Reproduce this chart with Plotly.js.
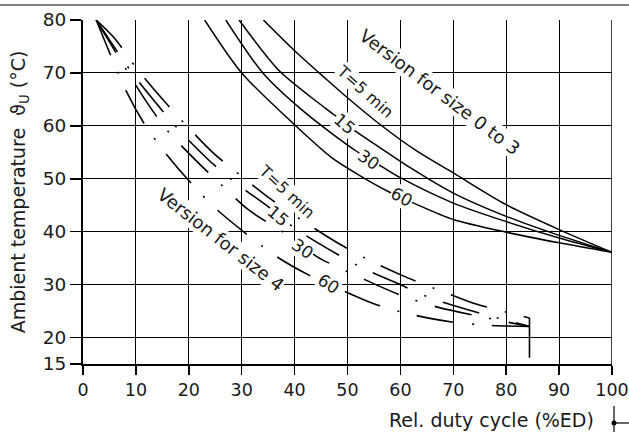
<!DOCTYPE html>
<html>
<head>
<meta charset="utf-8">
<script src="https://cdn.plot.ly/plotly-3.0.1.min.js"></script>
<style>html,body{margin:0;padding:0;background:#fff;}#chart{width:629px;height:432px;}</style>
</head>
<body>
<div id="chart"></div>
<script>
// Version for size 0 to 3 (solid curves), x = rel. duty cycle %ED, y = ambient temperature °C
const up5X  = [34.1, 40, 46, 50, 56.1, 63, 70, 80, 90, 100];
const up5Y  = [80, 74.2, 68.8, 65.3, 60.3, 55.3, 51.1, 45.1, 40.4, 36.1];
const up15X = [29.5, 37, 43, 47.6, 51.1, 56.1, 62, 70, 80, 90, 100];
const up15Y = [80, 70.5, 65.5, 62, 59.3, 55.9, 52, 47.3, 42.9, 39.3, 36.1];
const up30X = [27, 34, 42, 51.7, 56.5, 60, 70, 80, 90, 100];
const up30Y = [80, 70, 62.5, 55.2, 52.3, 50.2, 45.4, 41.9, 38.8, 36.1];
const up60X = [23, 30, 40, 47, 52, 57.7, 62.5, 70, 80, 90, 100];
const up60Y = [80, 70, 60.2, 54, 50.8, 47.6, 45.4, 42.3, 39.9, 37.9, 36.1];

// Version for size 4 (dash-dot curves)
const lo5X  = [2.5, 6, 10.1, 14.8, 19.6, 24.6, 30.3, 35.7, 41.6, 47.6, 53.9, 60.4, 66.9, 73.8, 80.4, 84.4];
const lo5Y  = [80, 76.5, 70.9, 65.3, 60, 54.9, 50.2, 46, 42, 38.2, 34.7, 31.7, 29.1, 26.5, 24.7, 23.7];
const lo15X = [2.5, 9.5, 13.9, 18.6, 23.7, 29, 35.3, 40.4, 46.4, 52.7, 59.3, 65.6, 72.6, 84.4];
const lo15Y = [80, 69.7, 64.2, 58.7, 53.6, 49.1, 44.5, 40.4, 36.7, 33.2, 30.3, 27.5, 25.3, 22.1];
const lo30X = [2.5, 11.7, 15.8, 20.8, 25.9, 31.2, 39.4, 44.2, 53.6, 60.3, 67.2, 84.4];
const lo30Y = [80, 65, 59.3, 54, 49.1, 44.2, 38.9, 35.3, 30.8, 27.9, 25.7, 22.1];
const lo60X = [2.5, 8.2, 11.7, 15.8, 20.5, 25.5, 36.6, 42.9, 49.5, 56.1, 62.8, 70, 77, 84.4];
const lo60Y = [80, 66.5, 60.2, 54.6, 49.1, 44, 35.3, 31.7, 28.7, 26, 24.2, 22.9, 22.3, 22.1];
const stopX = [84.4, 84.4];
const stopY = [23.7, 16.2];

const xTicks = [0, 10, 20, 30, 40, 50, 60, 70, 80, 90, 100];
const yTicks = [15, 20, 30, 40, 50, 60, 70, 80];

// labels: text, x, y, angle
const labelText  = ["Version for size 0 to 3", "T=5 min", "15", "30", "60",
                    "Version for size 4", "T=5 min", "15", "30", "60"];
const labelX     = [67.3, 53.3, 49.5, 54.1, 60.3, 26.1, 38.5, 36.9, 41.6, 46.5];
const labelY     = [66.4, 66.4, 60.4, 53.6, 46.6, 38.6, 47.6, 42.9, 36.8, 30.2];
const labelAngle = [37, 42, 40, 35, 30, 38, 43, 40, 35, 33];
const labelSize  = [18, 16, 17, 17, 17, 18, 16, 17, 17, 17];

const FONT = "DejaVu Sans";
const TXT = "#1a1a1a";
const solid = {color: "#000", width: 1.5};
const dd = {color: "#000", width: 1.6, dash: "38px,18px,2px,18px"};

function tr(x, y, line, shape) {
  return {x: x, y: y, type: "scatter", mode: "lines", line: Object.assign({shape: shape || "spline", smoothing: 0.8}, line), hoverinfo: "skip", showlegend: false};
}

const data = [
  tr(up5X, up5Y, solid), tr(up15X, up15Y, solid), tr(up30X, up30Y, solid), tr(up60X, up60Y, solid),
  tr(lo5X, lo5Y, dd), tr(lo15X, lo15Y, dd), tr(lo30X, lo30Y, dd), tr(lo60X, lo60Y, dd),
  tr(stopX, stopY, {color: "#000", width: 1.6}, "linear")
];

const annotations = labelText.map((t, i) => ({
  text: t, x: labelX[i], y: labelY[i], xref: "x", yref: "y", showarrow: false,
  textangle: labelAngle[i], bgcolor: "#fff", borderpad: 0,
  font: {family: FONT, size: labelSize[i], color: TXT}
}));
annotations.push({
  text: "Rel. duty cycle (%ED)", xref: "paper", yref: "paper", x: 0.970, y: -0.163,
  xanchor: "right", yanchor: "middle", showarrow: false,
  font: {family: FONT, size: 19, color: TXT}
});

const layout = {
  width: 629, height: 432,
  margin: {l: 83, r: 17, t: 20, b: 68},
  paper_bgcolor: "#fff", plot_bgcolor: "#fff",
  font: {family: FONT, size: 19, color: TXT},
  xaxis: {
    range: [0, 100], tickvals: xTicks, ticktext: xTicks.map(String),
    showgrid: true, gridcolor: "#000", gridwidth: 1,
    zeroline: false, showline: true, linecolor: "#000", linewidth: 2,
    ticks: "outside", ticklen: 9, tickwidth: 1.5, tickcolor: "#000",
    tickfont: {family: FONT, size: 17.5, color: TXT}, fixedrange: true
  },
  yaxis: {
    range: [15, 80], tickvals: yTicks, ticktext: yTicks.map(String),
    showgrid: true, gridcolor: "#000", gridwidth: 1,
    zeroline: false, showline: true, linecolor: "#000", linewidth: 2,
    ticks: "outside", ticklen: 11, tickwidth: 1.5, tickcolor: "#000",
    tickfont: {family: FONT, size: 18.5, color: TXT},
    title: {text: "Ambient temperature  ϑ<sub>U</sub> (°C)", font: {family: FONT, size: 19, color: TXT}, standoff: 12},
    fixedrange: true
  },
  shapes: [
    {type: "line", xref: "x", yref: "y", x0: 100, x1: 100, y0: 15, y1: 80, line: {color: "#000", width: 1.5}},
    {type: "line", xref: "paper", yref: "paper", x0: -0.157, x1: 1.032, y0: 1.0436, y1: 1.0436, line: {color: "#555", width: 1.5}},
    {type: "line", xref: "paper", yref: "paper", x0: 1.0038, x1: 1.0038, y0: -0.122, y1: -0.198, line: {color: "#000", width: 1.2}},
    {type: "line", xref: "paper", yref: "paper", x0: 1.0038, x1: 1.032, y0: -0.1715, y1: -0.1715, line: {color: "#000", width: 1.2}},
    {type: "circle", xref: "paper", yref: "paper", x0: 0.9991, x1: 1.0085, y0: -0.1642, y1: -0.1788, fillcolor: "#000", line: {color: "#000", width: 0}}
  ],
  annotations: annotations
};

Plotly.newPlot("chart", data, layout, {staticPlot: true, displayModeBar: false});
</script>
</body>
</html>
